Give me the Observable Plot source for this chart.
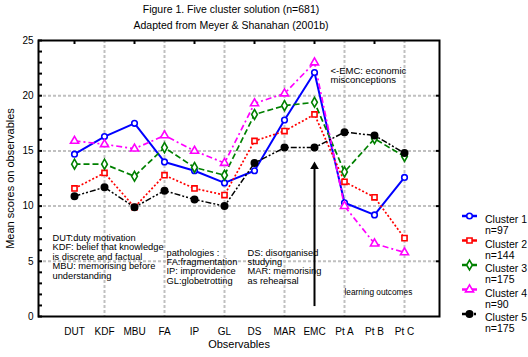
<!DOCTYPE html>
<html>
<head>
<meta charset="utf-8">
<script src="https://cdn.jsdelivr.net/npm/d3@7"></script>
<script src="https://cdn.jsdelivr.net/npm/@observablehq/plot@0.6"></script>
<style>
  html, body { margin: 0; padding: 0; background: #fff; }
  body { width: 528px; height: 357px; position: relative; overflow: hidden;
         font-family: "Liberation Sans", Arial, sans-serif; color: #000; }
  #chart { position: absolute; left: 0; top: 0; }
  #title { position: absolute; left: 0; top: 1px; width: 462px; text-align: center;
           font-size: 10.5px; line-height: 16px; }
  #legend { position: absolute; left: 0; top: 0; }
</style>
</head>
<body>
<div id="chart"></div>
<div id="title">Figure 1. Five cluster solution (n=681)<br>Adapted from Meyer &amp; Shanahan (2001b)</div>
<svg id="legend" width="528" height="357"></svg>
<script>
// ---- data ----
const categories = ["DUT","KDF","MBU","FA","IP","GL","DS","MAR","EMC","Pt A","Pt B","Pt C"];
const gridCategories = ["KDF","FA","GL","MAR","Pt A","Pt C"];
const tickCategories = ["DUT","MBU","IP","DS","EMC","Pt B"];
const yTicks = [0,5,10,15,20,25];
const yGrid = [5,10,15,20];
const yMinor = d3.range(0, 26);

const clusterNames = ["Cluster 1","Cluster 2","Cluster 3","Cluster 4","Cluster 5"];
const clusterSizes = ["n=97","n=144","n=175","n=90","n=175"];
const cluster1 = [14.7,16.3,17.5,14.0,13.2,12.1,13.2,17.8,22.1,10.3,9.2,12.6];
const cluster2 = [11.6,13.0,9.9,12.8,11.6,11.0,15.9,16.8,18.3,12.2,10.8,7.1];
const cluster3 = [13.8,13.8,12.7,15.3,13.5,12.8,18.3,19.1,19.4,13.1,16.1,14.5];
const cluster4 = [15.9,15.6,15.2,16.4,15.0,13.9,19.3,20.2,23.0,10.0,6.6,5.8];
const cluster5 = [10.9,11.7,9.9,11.4,10.6,10.0,13.9,15.3,15.3,16.7,16.4,14.8];
const seriesValues = [cluster1, cluster2, cluster3, cluster4, cluster5];

const arrowCategory = ["EMC"];
const arrowSpan = [0.9, 14.0]; // arrow from ~0.9 up to ~14 on the value scale

const noteLeft = "DUT:duty motivation\nKDF: belief that knowledge\nis discrete and factual\nMBU: memorising before\nunderstanding";
const notePath = "pathologies :\nFA:fragmentation\nIP: improvidence\nGL:globetrotting";
const noteDS = "DS: disorganised\nstudying\nMAR: memorising\nas rehearsal";
const noteEMC = "<-EMC: economic\nmisconceptions";
const noteLO = "learning outcomes";

// ---- styles ----
const styles = [
  {color: "#0000ff", dash: null,            symbol: "circle",   fill: "white", r: 2.8, w: 2},
  {color: "#ff0000", dash: "2,2",           symbol: "square",   fill: "white", r: 2.9, w: 1.7},
  {color: "#008000", dash: "6,3",           symbol: "diamond",  fill: "white", r: 3.0, w: 1.7},
  {color: "#ff00ff", dash: "6,3,2,3",       symbol: "triangle", fill: "white", r: 3.0, w: 1.7},
  {color: "#000000", dash: "6,2,2,2,2,2",   symbol: "circle",   fill: "#000000", r: 3.2, w: 1.5}
];

const series = seriesValues.map((vals, k) =>
  categories.map((c, i) => ({cluster: clusterNames[k], cat: c, value: vals[i]})));

const W = 528, H = 357;
const mL = 38, mR = 89, mT = 40, mB = 41;
const FW = W - mL - mR, FH = H - mT - mB;

const grey = "#c0c0c0";
const marks = [
  Plot.gridX(gridCategories, {stroke: grey, strokeOpacity: 1, strokeWidth: 2, strokeDasharray: "3,2"}),
  Plot.gridY(yGrid, {stroke: grey, strokeOpacity: 1, strokeWidth: 2, strokeDasharray: "3,2"}),
  Plot.tickY(yMinor, {y: d => d, insetRight: FW - 4, strokeWidth: 2}),
  Plot.tickY(yGrid, {y: d => d, insetLeft: FW - 3, strokeWidth: 2}),
  Plot.tickX(tickCategories, {x: d => d, insetBottom: FH - 4, strokeWidth: 2}),
  Plot.axisX({tickSize: 0, tickPadding: 11, label: null, fontSize: 10}),
  Plot.axisY({ticks: yTicks, tickSize: 0, tickPadding: 5, label: null, fontSize: 10}),
  Plot.text(["Observables"], {frameAnchor: "bottom", dy: 31, fontSize: 11}),
  Plot.text(["Mean scores on observables"], {frameAnchor: "left", dx: -28, rotate: -90, textAnchor: "middle", fontSize: 11}),
  // annotations
  Plot.text([noteLeft], {frameAnchor: "top-left", dx: 14, dy: 193.5, textAnchor: "start", lineAnchor: "top", fontSize: 9.3, lineHeight: 1.02}),
  Plot.text([notePath], {frameAnchor: "top-left", dx: 128, dy: 208.5, textAnchor: "start", lineAnchor: "top", fontSize: 9.3, lineHeight: 1.0}),
  Plot.text([noteDS], {frameAnchor: "top-left", dx: 209, dy: 208.5, textAnchor: "start", lineAnchor: "top", fontSize: 9.3, lineHeight: 1.0}),
  Plot.text([noteEMC], {frameAnchor: "top-left", dx: 292, dy: 26.5, textAnchor: "start", lineAnchor: "top", fontSize: 9.5, lineHeight: 1.0}),
  Plot.text([noteLO], {frameAnchor: "top-left", dx: 306, dy: 249, textAnchor: "start", lineAnchor: "top", fontSize: 8.3}),
  Plot.ruleX(arrowCategory, {x: d => d, y1: arrowSpan[0], y2: arrowSpan[1] - 0.5, strokeWidth: 2}),
  Plot.dot(arrowCategory, {x: d => d, y: arrowSpan[1], symbol: "triangle", r: 3.2, fill: "black", stroke: "none", dy: 4.6}),
  ...series.map((rows, k) => Plot.line(rows, {x: "cat", y: "value", stroke: styles[k].color, strokeWidth: styles[k].w,
      strokeDasharray: styles[k].dash, strokeLinecap: "butt"})),
  ...series.map((rows, k) => Plot.dot(rows, {x: "cat", y: "value", symbol: styles[k].symbol, r: styles[k].r,
      stroke: styles[k].color, fill: styles[k].fill, strokeWidth: 1.6})),
  Plot.frame({strokeWidth: 2})
];

const chart = Plot.plot({
  width: W, height: H,
  marginLeft: mL, marginRight: mR, marginTop: mT, marginBottom: mB,
  x: {type: "point", domain: categories, padding: 1},
  y: {domain: [0, 25]},
  style: {fontFamily: "'Liberation Sans', Arial, sans-serif", fontSize: "10px", background: "transparent", color: "#000"},
  marks
});
document.getElementById("chart").appendChild(chart);

// ---- legend ----
const lg = d3.select("#legend");
const symbolMap = {circle: d3.symbolCircle, square: d3.symbolSquare, diamond: d3.symbolDiamond, triangle: d3.symbolTriangle};
clusterNames.forEach((name, k) => {
  const s = styles[k];
  const y0 = 216 + 24.5 * k;
  lg.append("line").attr("x1", 462).attr("x2", 477).attr("y1", y0).attr("y2", y0)
    .attr("stroke", s.color).attr("stroke-width", 2.5).attr("stroke-dasharray", k === 4 ? "9,3,2,3" : null);
  lg.append("path").attr("d", d3.symbol(symbolMap[s.symbol], Math.PI * s.r * s.r)())
    .attr("transform", `translate(469.5,${y0})`).attr("stroke", s.color).attr("fill", s.fill).attr("stroke-width", 1.6);
  lg.append("text").attr("x", 485).attr("y", y0 + 7).attr("font-size", "10.5px")
    .attr("font-family", "'Liberation Sans', Arial, sans-serif").text(name);
  lg.append("text").attr("x", 485).attr("y", y0 + 18).attr("font-size", "10.5px")
    .attr("font-family", "'Liberation Sans', Arial, sans-serif").text(clusterSizes[k]);
});
</script>
</body>
</html>
